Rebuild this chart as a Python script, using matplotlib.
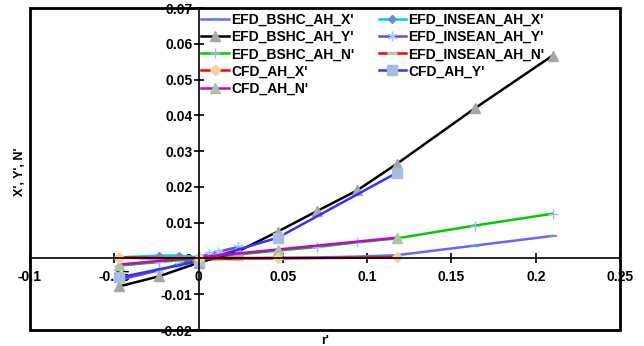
import matplotlib
matplotlib.use('Agg')
import matplotlib.pyplot as plt
from matplotlib.patches import Rectangle

# BSHC experiment
r_bshc = [-0.047, -0.0235, 0.0, 0.0235, 0.047, 0.0705, 0.094, 0.1175, 0.164, 0.21]
bshc_x = [0.0002, 0.0001, 0.0, 0.0001, 0.0002, 0.0003, 0.0005, 0.0009, 0.0036, 0.0063]
bshc_y = [-0.0078, -0.005, -0.0012, 0.002, 0.0075, 0.0133, 0.019, 0.0264, 0.042, 0.0567]
bshc_n = [-0.002, -0.001, 0.0, 0.0011, 0.0022, 0.0032, 0.0045, 0.0056, 0.0092, 0.0125]

# INSEAN experiment
r_insean = [-0.047, -0.0235, -0.0118, 0.0, 0.0059, 0.0118, 0.0235]
insean_x = [0.0003, 0.0008, 0.0008, 0.0003, 0.0006, 0.0008, 0.0009]
insean_y = [-0.006, -0.0033, -0.0017, 0.0003, 0.0012, 0.0019, 0.0032]
insean_n = [0.0003, 0.0001, 0.0001, 0.0, -0.0001, -0.0001, -0.0002]

# CFD
r_cfd = [-0.047, 0.0, 0.047, 0.1175]
cfd_x = [0.0002, 0.0, 0.0, 0.0003]
cfd_y = [-0.0053, -0.0008, 0.0058, 0.0239]
cfd_n = [-0.0017, 0.0003, 0.0025, 0.0058]

plt.rcParams['font.family'] = ['Liberation Sans', 'DejaVu Sans']
plt.rcParams['font.weight'] = 'bold'

fig = plt.figure(figsize=(6.44, 3.46), dpi=100)
ax = fig.add_axes([30/644, 16/346, 590/644, 322/346])

lw = 1.8
h = {}
h['bx'], = ax.plot(r_bshc, bshc_x, color='#6666ff', lw=lw, marker='_', ms=6, mec='#5b9bd5', mew=1.5, label="EFD_BSHC_AH_X'")
h['ix'], = ax.plot(r_insean, insean_x, color='#00ccff', lw=lw, marker='D', ms=4, mfc='#6a8fd0', mec='#6a8fd0', label="EFD_INSEAN_AH_X'")
h['iy'], = ax.plot(r_insean, insean_y, color='#7744cc', lw=lw, marker=(6, 2, 0), ms=7, mec='#99ccff', mew=1, label="EFD_INSEAN_AH_Y'")
h['in'], = ax.plot(r_insean, insean_n, color='#ff0000', lw=lw, marker='_', ms=7, mec='#c0c0c0', mew=2.5, label="EFD_INSEAN_AH_N'")
h['bn'], = ax.plot(r_bshc, bshc_n, color='#00cc00', lw=lw, marker='+', ms=7, mec='#99bbee', mew=1, label="EFD_BSHC_AH_N'")
h['by'], = ax.plot(r_bshc, bshc_y, color='black', lw=lw, marker='^', ms=7, mfc='#a6a6a6', mec='#a6a6a6', label="EFD_BSHC_AH_Y'")
h['cy'], = ax.plot(r_cfd, cfd_y, color='#3333ff', lw=lw, marker='s', ms=7, mfc='#a4bde0', mec='#a4bde0', label="CFD_AH_Y'")
h['cn'], = ax.plot(r_cfd, cfd_n, color='#cc00cc', lw=lw, marker='^', ms=7, mfc='#a9c4a0', mec='#a9c4a0', label="CFD_AH_N'")
h['cx'], = ax.plot(r_cfd, cfd_x, color='#ff0000', lw=lw, marker='D', ms=5, mfc='#ffcc99', mec='#ffcc99', label="CFD_AH_X'")

ax.set_xlim(-0.1, 0.25)
ax.set_ylim(-0.02, 0.07)
ax.set_xticks([-0.1, -0.05, 0, 0.05, 0.1, 0.15, 0.2, 0.25])
ax.set_xticklabels(['-0.1', '-0.05', '0', '0.05', '0.1', '0.15', '0.2', '0.25'])
ax.set_yticks([-0.02, -0.01, 0, 0.01, 0.02, 0.03, 0.04, 0.05, 0.06, 0.07])
ax.set_yticklabels(['-0.02', '-0.01', '0', '0.01', '0.02', '0.03', '0.04', '0.05', '0.06', '0.07'])

ax.spines['left'].set_position(('data', 0))
ax.spines['bottom'].set_position(('data', 0))
ax.spines['top'].set_visible(False)
ax.spines['right'].set_visible(False)
for s in ['left', 'bottom']:
    ax.spines[s].set_linewidth(1.2)
ax.tick_params(direction='inout', length=7, width=1.2, labelsize=10)
ax.tick_params(axis='x', pad=5)
ax.tick_params(axis='y', pad=1)
for t in ax.get_xticklabels() + ax.get_yticklabels():
    t.set_fontweight('bold')
ax.add_patch(Rectangle((0, 0), 1, 1, transform=ax.transAxes, fill=False,
                       lw=2, ec='black', clip_on=False, zorder=5))

fig.text(325/644, 1 - 341/346, "r'", ha='center', va='center', fontsize=9, fontweight='bold')
fig.text(20/644, 1 - 172/346, "X', Y', N'", ha='center', va='center', rotation=90, fontsize=9, fontweight='bold')

order = ['bx', 'by', 'bn', 'cx', 'cn', 'ix', 'iy', 'in', 'cy']
leg = ax.legend([h[k] for k in order], [h[k].get_label() for k in order],
                loc='upper left', bbox_to_anchor=(0.29, 0.984), ncol=2,
                frameon=False, prop={'size': 10, 'weight': 'bold'},
                handlelength=2.0, handletextpad=0.15, columnspacing=1.75,
                labelspacing=0.22, borderpad=0, borderaxespad=0)

fig.savefig('out.png', dpi=100)
